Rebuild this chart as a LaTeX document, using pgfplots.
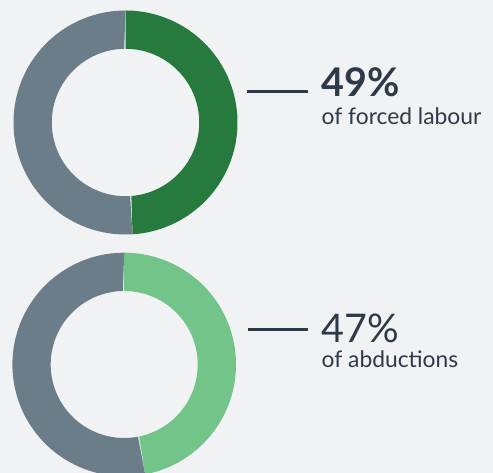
\documentclass[border=0pt]{standalone}
\usepackage{fontspec}
\setmainfont{Lato}
\usepackage{pgfplots}
\pgfplotsset{compat=1.18}
\definecolor{bgc}{HTML}{F1F2F4}
\definecolor{dgreen}{HTML}{277A3E}
\definecolor{lgreen}{HTML}{72C489}
\definecolor{slate}{HTML}{6A7D88}
\definecolor{ink}{HTML}{2E3A48}

% ring segment: cx, cy, outer r, inner r, from %, to %, colour
\newcommand{\ring}[7]{%
  \addplot[fill=#7, draw=none, domain=0:2, samples=361, variable=\t]
  ({#1 + ((\t<1)*#3 + (\t>=1)*#4)*sin(3.6*(#5 + (#6-#5)*((\t<1)*\t + (\t>=1)*(2-\t))))},
   {#2 + ((\t<1)*#3 + (\t>=1)*#4)*cos(3.6*(#5 + (#6-#5)*((\t<1)*\t + (\t>=1)*(2-\t))))});
}

\begin{document}
\begin{tikzpicture}
\fill[bgc] (0,0) rectangle (493pt,473pt);
\begin{axis}[at={(0,0)}, anchor=south west, scale only axis,
  width=493pt, height=473pt,
  xmin=0, xmax=493, ymin=0, ymax=473,
  hide axis, clip=true]
% forced labour: 49%
\ring{125.5}{350.5}{112}{73.7}{0}{49}{dgreen}
\ring{125.5}{350.5}{112}{73.7}{49}{100}{slate}
% abductions: 47%
\ring{124.2}{108.5}{111.8}{73.5}{0}{47}{lgreen}
\ring{124.2}{108.5}{111.8}{73.5}{47}{100}{slate}

\draw[ink, line width=2.2pt] (axis cs:246.7,381.5) -- (axis cs:307.7,381.5);
\node[anchor=base west, inner sep=0pt, text=ink, font=\fontsize{39.5}{44}\selectfont\bfseries]
  at (axis cs:321,376.3) {49\%};
\node[anchor=base west, inner sep=0pt, text=ink, font=\fontsize{22.8}{26}\selectfont]
  at (axis cs:321.5,348) {of forced labour};

\draw[ink, line width=2.2pt] (axis cs:248,143.5) -- (axis cs:308,143.5);
\node[anchor=base west, inner sep=0pt, text=ink, font=\fontsize{39.5}{44}\selectfont]
  at (axis cs:321,130.3) {47\%};
\node[anchor=base west, inner sep=0pt, text=ink, font=\fontsize{22.8}{26}\selectfont]
  at (axis cs:321.5,105) {of abductions};
\end{axis}
\end{tikzpicture}
\end{document}
